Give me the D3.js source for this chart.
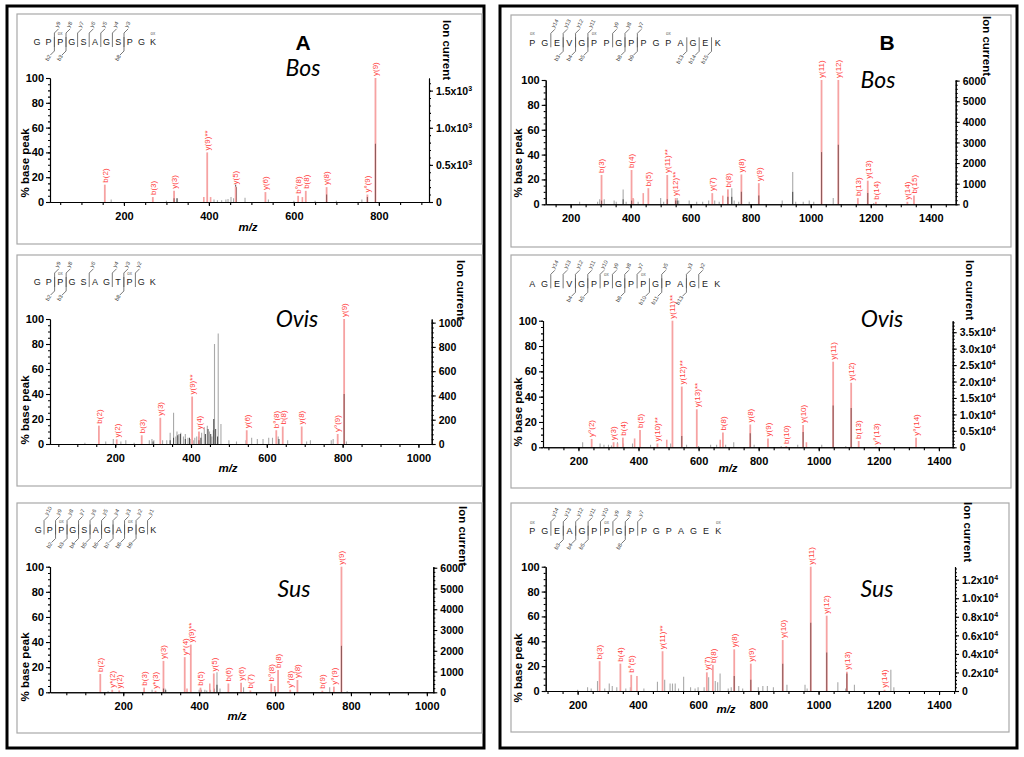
<!DOCTYPE html>
<html><head><meta charset="utf-8">
<script src="https://cdn.jsdelivr.net/npm/d3@7"></script>
<style>body{margin:0;background:#fff}svg{display:block}</style>
</head><body>
<svg id="c" width="1024" height="757"></svg>
<script>
// ---------------- DATA ----------------
// labelled peaks: [m/z, % base peak, dark overlay %, label]
const bosA_peaks = [
  [155,14,0,"b(2)"],[268,4,0,"b(3)"],[318,9,3,"y(3)"],[396,40,0,"y(9)**"],
  [463,12.5,0,"y(5)"],[533,8,0,"y(6)"],[610,5,0,"b°(8)"],[628,9,0,"b(8)"],
  [677,12,6,"y(8)"],[773,6,4,"y°(9)"],[792,100,47,"y(9)"]
];
const bosA_pink = [[388,4],[404,4],[620,4]];
const bosA_gray = [[170,2],[300,1],[325,3],[412,2],[420,1.5],[430,1.5],[440,2],[445,2.5],[452,4],[458,3],[485,3.5],[540,2],[600,1],[650,1],[700,1],[760,2]];
const bosA_black = [[463,14],[465,12],[325,3]];

const ovisA_peaks = [
  [157,14.7,0,"b(2)"],[204,3.7,0,"y(2)"],[270,7,0,"b(3)"],[319,21,0,"y(3)"],
  [403,38,0,"y(9)**"],[421,10,3,"y(4)"],[547,11,0,"y(6)"],[625,11,0,"b°(8)"],
  [642,14,0,"b(8)"],[692,14,0,"y(8)"],[787,8,0,"y°(9)"],[804,100,40,"y(9)"]
];
const ovisA_pink = [];
const ovisA_gray = [[120,1],[175,2],[195,4],[215,2],[228,3],[250,1],[290,3],[297,4],[302,3],[325,3],[336,3],[345,9],[354,25],[360,6],[363,10],[368,8],[373,9],[380,6],[385,8],[392,5],[398,4],[410,5],[415,6],[428,9],[435,13.4],[443,14.7],[449,10],[455,6],[459,11],[462,80],[471.8,88.5],[479,16],[500,3],[520,2],[545,3],[560,5],[575,4],[590,4],[605,5],[615,5],[630,6],[655,3],[705,2],[715,3],[770,3],[775,4],[810,2]];
const ovisA_black = [[300,2],[345,3],[354,5],[365,7],[372,8],[385,4],[396,5],[405,3],[420,6],[426,5],[438,8],[445,12],[452,8],[460,20],[465,12],[470,6],[632,4]];

const susA_peaks = [
  [139.5,14.6,0,"b(2)"],[171,2,0,"y*(2)"],[189.5,1.5,0,"y(2)"],[255,3.7,0,"b(3)"],
  [285,1.3,0,"y*(3)"],[306,25,3,"y(3)"],[362,28,0,"y*(4)"],[378,38,0,"y(9)**"],
  [403.5,3.7,0,"b(5)"],[438.6,15,0,"y(5)"],[477,7,0,"b(6)"],[510.5,7.7,0,"y(6)"],
  [535,1.5,0,"b(7)"],[590,7,0,"b°(8)"],[608,17.8,0,"b(8)"],[640,2,0,"y°(8)"],
  [659,9.8,0,"y(8)"],[724.6,1.3,0,"b(9)"],[755,4.5,0,"y°(9)"],[775,100,37,"y(9)"]
];
const susA_pink = [[428,7],[368,3],[599,5]];
const susA_gray = [[160,1],[276,2],[310,3],[400,2],[415,2],[420,1.5],[430,2],[447,16],[455,3],[517,4],[600,2],[744,4],[790,1]];
const susA_black = [[447,6],[312,2],[405,2],[440,3]];

const bosB_peaks = [
  [303,23.6,3,"b(3)"],[403,27.6,3,"b(4)"],[459,13,0,"b(5)"],[522,23.6,4,"y(11)**"],
  [550,5,3,"y(12)**"],[672,9,0,"y(7)"],[724,12,6,"b(8)"],[769,24,10,"y(8)"],
  [827,17,7,"y(9)"],[1036,100,42,"y(11)"],[1092,100,48,"y(12)"],[1157,5,0,"b(13)"],
  [1190,19,9,"y(13)"],[1217,2,0,"b(14)"],[1322,2,0,"y(14)"],[1344,7,0,"b(15)"]
];
const bosB_pink = [[442,9],[707,7],[408,5]];
const bosB_gray = [[230,2],[290,2],[297,4],[312,4],[345,3],[352,2],[375,12],[385,2],[410,4],[425,2],[500,5],[510,2],[555,5],[560,3],[595,3],[620,2],[640,2],[660,3],[680,3],[695,2],[737,13],[745,3],[760,2],[795,2],[905,3],[940,26],[950,2],[975,2],[995,3],[1010,2],[1075,5],[1210,1]];
const bosB_black = [[940,10],[737,6],[375,4],[555,3]];

const ovisB_peaks = [
  [244,6.6,0,"y°(2)"],[317,4,0,"y(3)"],[348,7.6,0,"b(4)"],[405,13.7,0,"b(5)"],
  [463,3,0,"y(10)**"],[513,100,0,"y(11)**"],[544,48,9,"y(12)**"],[594,30,0,"y(13)**"],
  [681,11.6,0,"b(8)"],[772,18,11,"y(8)"],[831,7,0,"y(9)"],[892,1,0,"b(10)"],
  [948,17.6,12,"y(10)"],[1048,67.6,33,"y(11)"],[1108,51,31,"y(12)"],[1133,5,0,"b(13)"],
  [1191,0.5,0,"y°(13)"],[1324,7.6,0,"y°(14)"]
];
const ovisB_pink = [[387,7],[494,6],[672,6],[959,4],[330,3]];
const ovisB_gray = [[214,4],[272,3],[285,2],[300,2],[310,1.5],[330,4],[350,3],[380,3],[440,2],[507,3],[560,2],[600,1],[640,2],[660,2],[690,2],[717,4],[785,2],[875,1],[930,2],[1010,2],[1090,1]];
const ovisB_black = [[330,2]];

const susB_peaks = [
  [273,24,0,"b(3)"],[342,22,0,"b(4)"],[378,13,0,"b°(5)"],[482,32,0,"y(11)**"],
  [629,15,0,"y(7)"],[649,21,0,"b(8)"],[720,33.5,12,"y(8)"],[775,22,9,"y(9)"],
  [881,41,22,"y(10)"],[974,100,55,"y(11)"],[1027,60.6,31,"y(12)"],[1094,15.5,14,"y(13)"],
  [1219,1,0,"y(14)"]
];
const susB_pink = [[397,12]];
const susB_gray = [[200,1],[233,3],[245,2],[266,8],[290,2],[305,6],[315,4],[330,3],[360,2],[375,3],[420,2],[465,7.5],[489,9],[507,6],[515,6],[524,6],[535,2],[552,11.5],[575,3],[590,2],[600,3],[620,3],[635,11],[657,8],[665,7],[673,14],[700,2],[710,3],[735,4],[748,2],[800,3],[815,4],[830,4],[850,3],[895,5],[955,5],[962,2],[1064,7],[1090,2],[1119,5],[1240,17],[1250,3]];
const susB_black = [];

// peptide sequences and fragment annotations
const bosA_seq = "GPPGSAGSPGK",       bosA_ox = [2,10],   bosA_y = [9,8,7,6,5,4,3],             bosA_b = [2,3,8];
const ovisA_seq = "GPPGSAGTPGK",      ovisA_ox = [2,8],   ovisA_y = [9,8,6,4,3,2],              ovisA_b = [2,3,8];
const susA_seq = "GPPGSAGAPGK",       susA_ox = [2,8],    susA_y = [10,9,8,7,6,5,4,3,2,1],     susA_b = [2,3,4,5,6,7,8,9];
const bosB_seq = "PGEVGPPGPPGPAGEK",  bosB_ox = [0,5,11], bosB_y = [14,13,12,11,9,8,7],         bosB_b = [3,4,5,8,9,13,14,15];
const ovisB_seq = "AGEVGPPGPPGPAGEK", ovisB_ox = [6,9],   ovisB_y = [14,13,12,11,10,9,8,7,5,3,2], ovisB_b = [4,5,8,10,11,13];
const susB_seq = "PGEAGPPGPPGPAGEK",  susB_ox = [0,6,15], susB_y = [14,13,12,11,10,9,8,7],       susB_b = [3,4,5,8];

// axis ranges and tick labels
const leftTicks = [0,20,40,60,80,100];
const mzTicksA = [200,400,600,800,1000];
const mzTicksB = [200,400,600,800,1000,1200,1400];
const bosA_ion = [0,500,1000,1500],     bosA_ionLabels = ["0","0.5x10|3","1.0x10|3","1.5x10|3"];
const ovisA_ion = [0,200,400,600,800,1000], ovisA_ionLabels = ["0","200","400","600","800","1000"];
const susA_ion = [0,1000,2000,3000,4000,5000,6000], susA_ionLabels = ["0","1000","2000","3000","4000","5000","6000"];
const bosB_ion = [0,1000,2000,3000,4000,5000,6000], bosB_ionLabels = ["0","1000","2000","3000","4000","5000","6000"];
const ovisB_ion = [0,5000,10000,15000,20000,25000,30000,35000], ovisB_ionLabels = ["0","0.5x10|4","1.0x10|4","1.5x10|4","2.0x10|4","2.5x10|4","3.0x10|4","3.5x10|4"];
const susB_ion = [0,2000,4000,6000,8000,10000,12000], susB_ionLabels = ["0","0.2x10|4","0.4x10|4","0.6x10|4","0.8x10|4","1.0x10|4","1.2x10|4"];

// ---------------- LAYOUT ----------------
const panels = [
 {box:[17,14,482,244], x0:50,x1:429,yB:202,yT:78, xd:[26,918], rmax:1670, ion:bosA_ion, ionL:bosA_ionLabels, mzT:mzTicksA,
  peaks:bosA_peaks,pink:bosA_pink,gray:bosA_gray,black:bosA_black, seq:bosA_seq,ox:bosA_ox,yi:bosA_y,bi:bosA_b,
  sx:37,sy:42,sdx:11.6, ionPos:[447,50], ylab:[25,163], mz:[248,231], title:["A",303,50], sp:["Bos",303,76]},
 {box:[17,255,482,486], x0:50,x1:431.7,yB:444,yT:319, xd:[28,1035], rmax:1030, ion:ovisA_ion, ionL:ovisA_ionLabels, mzT:mzTicksA,
  peaks:ovisA_peaks,pink:ovisA_pink,gray:ovisA_gray,black:ovisA_black, seq:ovisA_seq,ox:ovisA_ox,yi:ovisA_y,bi:ovisA_b,
  sx:37.3,sy:282,sdx:11.54, ionPos:[461,290], ylab:[25,410], mz:[228,472], title:null, sp:["Ovis",297,327]},
 {box:[17,503,482,733], x0:50,x1:433.3,yB:692.3,yT:566.7, xd:[7,1017], rmax:6050, ion:susA_ion, ionL:susA_ionLabels, mzT:mzTicksA,
  peaks:susA_peaks,pink:susA_pink,gray:susA_gray,black:susA_black, seq:susA_seq,ox:susA_ox,yi:susA_y,bi:susA_b,
  sx:38.3,sy:529.5,sdx:11.5, ionPos:[463,536], ylab:[25,667], mz:[237,720], title:null, sp:["Sus",294,597]},
 {box:[511,15,1011,247], x0:545.7,x1:955.7,yB:204.3,yT:80, xd:[117,1483], rmax:6030, ion:bosB_ion, ionL:bosB_ionLabels, mzT:mzTicksB,
  peaks:bosB_peaks,pink:bosB_pink,gray:bosB_gray,black:bosB_black, seq:bosB_seq,ox:bosB_ox,yi:bosB_y,bi:bosB_b,
  sx:532.3,sy:42.3,sdx:12.36, ionPos:[987,46], ylab:[518,163], mz:null, title:["B",887,50], sp:["Bos",878,88]},
 {box:[511,255,1011,488], x0:543,x1:952.7,yB:447.3,yT:320.7, xd:[82,1446], rmax:38500, ion:ovisB_ion, ionL:ovisB_ionLabels, mzT:mzTicksB,
  peaks:ovisB_peaks,pink:ovisB_pink,gray:ovisB_gray,black:ovisB_black, seq:ovisB_seq,ox:ovisB_ox,yi:ovisB_y,bi:ovisB_b,
  sx:532.3,sy:283.3,sdx:12.33, ionPos:[970,290], ylab:[518,412], mz:[728,472], title:null, sp:["Ovis",882,327]},
 {box:[511,503,1009,732], x0:545.7,x1:955,yB:691,yT:566.7, xd:[94,1453], rmax:13400, ion:susB_ion, ionL:susB_ionLabels, mzT:mzTicksB,
  peaks:susB_peaks,pink:susB_pink,gray:susB_gray,black:susB_black, seq:susB_seq,ox:susB_ox,yi:susB_y,bi:susB_b,
  sx:532.3,sy:530.7,sdx:12.4, ionPos:[968,532], ylab:[518,668], mz:[726,713], title:null, sp:["Sus",877,597]}
];

const svg = d3.select("#c");
const AX = "'Liberation Sans', Arial, sans-serif";
const PINK = "#f6a2a2", RED = "#ff4040", DARK = "#8f5a5a";

// outer frames
svg.append("rect").attr("x",7).attr("y",6).attr("width",477).attr("height",742).attr("fill","none").attr("stroke","#000").attr("stroke-width",3);
svg.append("rect").attr("x",500).attr("y",6).attr("width",517).attr("height",742).attr("fill","none").attr("stroke","#000").attr("stroke-width",3);

function drawPanel(p){
  const g = svg.append("g");
  g.append("rect").attr("x",p.box[0]).attr("y",p.box[1]).attr("width",p.box[2]-p.box[0]).attr("height",p.box[3]-p.box[1])
    .attr("fill","none").attr("stroke","#a8a8a8").attr("stroke-width",1.2);
  const x = d3.scaleLinear().domain(p.xd).range([p.x0,p.x1]);
  const y = d3.scaleLinear().domain([0,100]).range([p.yB,p.yT]);
  const yr = d3.scaleLinear().domain([0,p.rmax]).range([p.yB,p.yT]);

  const vline = (sel,data,color,w,hIdx) => sel.selectAll(null).data(data).enter().append("line")
      .attr("x1",d=>x(d[0])).attr("x2",d=>x(d[0])).attr("y1",y(0)).attr("y2",d=>y(d[hIdx]))
      .attr("stroke",color).attr("stroke-width",w);
  vline(g,p.gray,"#a9a9a9",1.1,1);
  vline(g,p.black,"#3a3a3a",0.9,1);
  vline(g,p.pink,PINK,1.6,1);
  vline(g,p.peaks,PINK,1.8,1);
  vline(g,p.peaks.filter(d=>d[2]>0),DARK,1.1,2);

  g.selectAll(null).data(p.peaks).enter().append("text")
    .attr("transform",d=>`translate(${x(d[0])+2.8},${y(d[1])-2}) rotate(-90)`)
    .attr("font-family",AX).attr("font-size",8).attr("fill",RED).text(d=>d[3]);

  // axes
  const fmtAxis = sel => { sel.selectAll("path,line").attr("stroke","#000").attr("stroke-width",1.1);
    sel.selectAll("text").attr("font-family",AX).attr("font-size",11).attr("font-weight","bold").attr("fill","#000"); };
  const minorL = d3.range(0,101,5);
  g.append("g").attr("transform",`translate(${p.x0},0)`).call(d3.axisLeft(y).tickValues(minorL).tickSize(2).tickFormat("").tickSizeOuter(0)).call(fmtAxis);
  g.append("g").attr("transform",`translate(${p.x0},0)`).call(d3.axisLeft(y).tickValues(leftTicks).tickSize(4).tickPadding(2).tickSizeOuter(0)).call(fmtAxis);

  const minorX = d3.range(Math.ceil(p.xd[0]/50)*50, p.xd[1], 50);
  const majorX = p.mzT.filter(v=>v>=p.xd[0] && v<=p.xd[1]);
  g.append("g").attr("transform",`translate(0,${p.yB})`).call(d3.axisBottom(x).tickValues(minorX).tickSize(3).tickFormat("").tickSizeOuter(0)).call(fmtAxis);
  g.append("g").attr("transform",`translate(0,${p.yB})`).call(d3.axisBottom(x).tickValues(majorX).tickSize(4).tickPadding(6).tickFormat(d3.format("d")).tickSizeOuter(0)).call(fmtAxis);

  const step = p.ion[1]-p.ion[0];
  const minorR = d3.range(0,p.rmax,step/5);
  g.append("g").attr("transform",`translate(${p.x1},0)`).call(d3.axisRight(yr).tickValues(minorR).tickSize(2).tickFormat("").tickSizeOuter(0)).call(fmtAxis);
  const ra = g.append("g").attr("transform",`translate(${p.x1},0)`).call(d3.axisRight(yr).tickValues(p.ion).tickSize(4).tickPadding(3).tickFormat("").tickSizeOuter(0)).call(fmtAxis);
  ra.selectAll(".tick").each(function(d,i){
    const parts = p.ionL[i].split("|");
    const t = d3.select(this).append("text").attr("x",7).attr("dy","0.35em")
      .attr("font-family",AX).attr("font-size",10.5).attr("font-weight","bold").attr("fill","#000");
    t.append("tspan").text(parts[0]);
    if(parts[1]) t.append("tspan").attr("font-size",7).attr("dy","-4").text(parts[1]);
  });

  // axis titles
  g.append("text").attr("transform",`translate(${p.ionPos[0]},${p.ionPos[1]}) rotate(90)`).attr("text-anchor","middle")
    .attr("dy","0.35em").attr("font-family",AX).attr("font-size",11.5).attr("font-weight","bold").text("Ion current");
  g.append("text").attr("transform",`translate(${p.ylab[0]},${p.ylab[1]}) rotate(-90)`).attr("text-anchor","middle")
    .attr("dy","0.35em").attr("font-family",AX).attr("font-size",11.5).attr("font-weight","bold").text("% base peak");
  if(p.mz) g.append("text").attr("x",p.mz[0]).attr("y",p.mz[1]).attr("text-anchor","middle").attr("font-family",AX)
    .attr("font-size",11.5).attr("font-weight","bold").attr("font-style","italic").text("m/z");
  if(p.title) g.append("text").attr("x",p.title[1]).attr("y",p.title[2]).attr("text-anchor","middle").attr("font-family",AX)
    .attr("font-size",21).attr("font-weight","bold").text(p.title[0]);
  g.append("text").attr("x",p.sp[1]).attr("y",p.sp[2]).attr("text-anchor","middle").attr("font-family","Lato, 'Open Sans', sans-serif")
    .attr("font-size",23).attr("font-style","italic").text(p.sp[0]);

  // peptide sequence with fragment markers
  const sq = g.append("g");
  const lx = i => p.sx + i*p.sdx;
  sq.selectAll(null).data(p.seq.split("")).enter().append("text").attr("x",(d,i)=>lx(i)).attr("y",p.sy+3.3)
    .attr("text-anchor","middle").attr("font-family",AX).attr("font-size",9).attr("fill","#222").text(d=>d);
  sq.selectAll(null).data(p.ox).enter().append("text").attr("x",d=>lx(d)).attr("y",p.sy-7)
    .attr("text-anchor","middle").attr("font-family",AX).attr("font-size",4.5).attr("fill","#666").text("ox");
  const n = p.seq.length;
  const cutX = c => (lx(c-1)+lx(c))/2;
  p.yi.forEach(k=>{
    const cx = cutX(n-k);
    sq.append("path").attr("d",`M${cx},${p.sy+5}L${cx},${p.sy-9}L${cx+4},${p.sy-13}`).attr("fill","none").attr("stroke","#555").attr("stroke-width",0.8);
    sq.append("text").attr("transform",`translate(${cx+3.5},${p.sy-14}) rotate(-60)`).attr("font-family",AX).attr("font-size",5.5).attr("fill","#444").text("y"+k);
  });
  p.bi.forEach(k=>{
    const cx = cutX(k);
    sq.append("path").attr("d",`M${cx},${p.sy-5}L${cx},${p.sy+9}L${cx-4},${p.sy+13}`).attr("fill","none").attr("stroke","#555").attr("stroke-width",0.8);
    sq.append("text").attr("transform",`translate(${cx-3},${p.sy+14}) rotate(-60)`).attr("text-anchor","end").attr("font-family",AX).attr("font-size",5.5).attr("fill","#444").text("b"+k);
  });
}
panels.forEach(drawPanel);
</script>
</body></html>
